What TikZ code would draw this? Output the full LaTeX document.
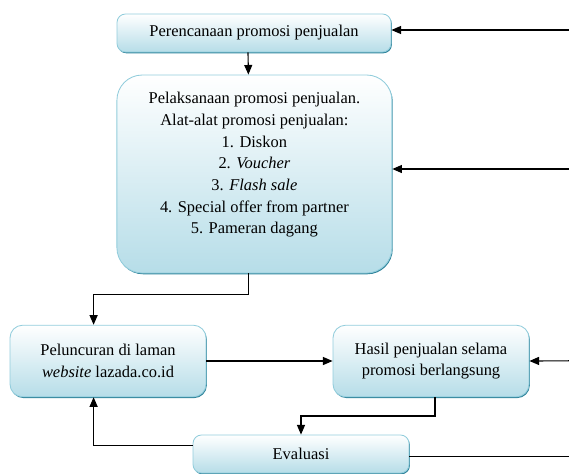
\documentclass[tikz,border=0pt]{standalone}
\usepackage{fontspec}
\setmainfont{Liberation Serif}
\usetikzlibrary{arrows.meta,shadows}
\definecolor{boxline}{HTML}{92CDDC}
\definecolor{boxfill}{HTML}{B6DDE8}
\definecolor{boxshadow}{HTML}{31849B}
\tikzset{
    langkah/.style={draw=boxline, line width=0.6pt, rounded corners=6pt,
        top color=white, bottom color=boxfill, align=center,
        font=\fontsize{11.7}{15.4}\selectfont,
        drop shadow={shadow xshift=0.6pt, shadow yshift=-0.9pt, fill=boxshadow, opacity=1}},
    panah/.style={-{Triangle[length=2.4mm,width=2mm]}, line width=0.8pt},
    garis/.style={line width=0.8pt}
}
\begin{document}
\begin{tikzpicture}
    \useasboundingbox (0,0) rectangle (14.225,-11.825);
    % kotak-kotak proses
    \node[langkah, minimum width=6.85cm, minimum height=0.95cm] (rencana) at (6.35,-0.825)
        {Perencanaan promosi penjualan};
    \node[langkah, rounded corners=18pt, minimum width=6.875cm, minimum height=4.95cm] (laksana) at (6.36,-4.35)
        {Pelaksanaan promosi penjualan.\\ Alat-alat promosi penjualan:\\ 1. Diskon\\ 2. \textit{Voucher}\\
         3. \textit{Flash sale}\\ 4. Special offer from partner\\ 5. Pameran dagang\\ \mbox{}};
    \node[langkah, rounded corners=9pt, minimum width=4.9cm, minimum height=1.79cm] (luncur) at (2.7,-9.025)
        {Peluncuran di laman\\ \textit{website} lazada.co.id};
    \node[langkah, rounded corners=9pt, minimum width=4.9cm, minimum height=1.79cm] (hasil) at (10.775,-9.025)
        {Hasil penjualan selama\\ promosi berlangsung};
    \node[langkah, minimum width=5.4cm, minimum height=0.95cm] (evaluasi) at (7.525,-11.35)
        {Evaluasi};
    % ujung bebas di tepi kanan
    \coordinate (masuk1) at (14.225,-0.75);
    \coordinate (masuk2) at (14.225,-4.225);
    \coordinate (masuk3) at (14.225,-9.02);
    \coordinate (keluar) at (14.225,-11.42);
    % alur
    \draw[panah] ([xshift=-0.15cm]rencana.south) -- ([xshift=-0.15cm]laksana.north);
    \draw[panah] ([xshift=-0.15cm]laksana.south) |- (2.34,-7.36) -- ([xshift=-0.36cm]luncur.north);
    \draw[panah] (luncur) -- (hasil);
    \draw[panah] ([xshift=0.1cm]hasil.south) |- (7.525,-10.4) -- (evaluasi.north);
    \draw[panah] ([yshift=0.21cm]evaluasi.west) -| ([xshift=-0.36cm]luncur.south);
    % umpan balik dari kanan
    \draw[panah] (masuk1) -- (masuk1 -| rencana.east);
    \draw[panah] (masuk2) -- (masuk2 -| laksana.east);
    \draw[panah] (masuk3) -- (hasil.east);
    \draw[garis] (evaluasi.east |- keluar) -- (keluar);
\end{tikzpicture}
\end{document}
